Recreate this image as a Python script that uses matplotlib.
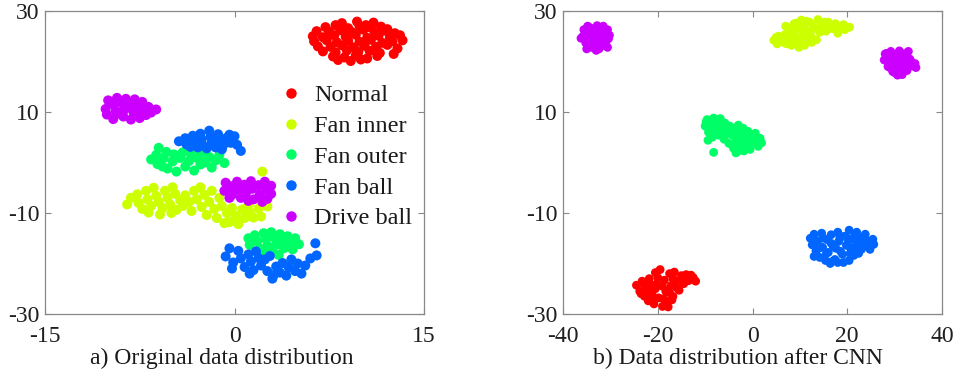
import matplotlib
matplotlib.use("Agg")
import matplotlib.pyplot as plt
from matplotlib.lines import Line2D

plt.rcParams['font.family'] = ['Liberation Serif', 'DejaVu Serif']
plt.rcParams['axes.unicode_minus'] = False

labels = ["Normal", "Fan inner", "Fan outer", "Fan ball", "Drive ball"]
colors = ["#FF0000", "#CCFF00", "#00FF66", "#0066FF", "#CC00FF"]

# ---------------- a) Original data distribution ----------------
a_normal_x = [8.5, 9.7, 10.4, 11.0, 7.2, 8.0, 9.0, 9.9, 10.8, 11.6, 12.1, 6.5, 7.5, 8.4, 9.3, 10.2,
              11.1, 11.9, 12.7, 6.2, 7.0, 7.9, 8.8, 9.6, 10.5, 11.4, 12.3, 13.1, 6.3, 7.3, 8.1, 9.0,
              9.9, 10.8, 11.7, 12.5, 13.3, 6.6, 7.6, 8.5, 9.4, 10.3, 11.2, 12.1, 12.9, 7.0, 8.0, 8.9,
              9.8, 10.7, 11.5, 12.6, 7.8, 8.7, 9.6, 10.5, 11.3, 8.2, 9.2, 10.0]
a_normal_y = [27.6, 27.9, 27.2, 27.7, 26.8, 27.2, 26.6, 27.0, 26.7, 26.9, 26.4, 26.0, 25.9, 26.2, 25.8, 26.3,
              25.7, 26.1, 25.6, 25.0, 24.8, 25.2, 24.9, 25.3, 24.7, 25.1, 24.8, 25.2, 24.0, 24.2, 23.8, 24.1,
              23.9, 24.3, 23.7, 24.0, 24.2, 23.0, 22.9, 23.2, 22.8, 23.1, 22.9, 23.3, 22.6, 22.0, 21.8, 22.2,
              21.9, 22.1, 21.7, 21.5, 21.0, 20.8, 21.2, 20.6, 21.1, 20.3, 20.1, 20.4]

a_finner_x = [-8.5, -8.2, -7.7, -7.6, -7.3, -7.0, -6.9, -6.6, -6.4, -6.2, -6.0, -5.9, -5.7, -5.5, -5.3,
              -5.1, -4.9, -4.7, -4.6, -4.3, -4.1, -3.9, -3.6, -6.8, -5.0,
              -3.2, -3.0, -2.7, -2.6, -2.4, -2.2, -2.0, -1.8, -1.6, -1.4, -1.2, -1.0, -0.8, -0.6, -0.4,
              -0.2, 0.1, 0.3, 0.6, 0.8, 1.2, 1.5, 1.9, 2.1, 2.6, 1.1, -3.4, 2.2]
a_finner_y = [-8.3, -7.0, -6.3, -8.0, -9.2, -5.6, -7.3, -8.6, -5.0, -6.6, -7.8, -10.3, -9.0, -5.6, -7.0,
              -8.3, -4.9, -6.2, -9.4, -7.5, -8.6, -6.5, -7.8, -9.9, -10.0,
              -5.6, -7.3, -4.9, -8.8, -6.4, -10.4, -7.8, -5.6, -9.2, -11.0, -7.0, -8.6, -12.0, -10.0, -11.8,
              -9.0, -10.6, -12.2, -9.3, -11.0, -9.9, -10.9, -9.1, -10.7, -8.7, -8.4, -9.6, -1.8]

a_fouter_x = [-6.6, -6.2, -6.0, -6.1, -5.6, -5.4, -5.3, -4.9, -4.8, -4.6, -4.3, -4.1, -3.9, -3.6, -3.4,
              -3.2, -2.9, -2.7, -2.6, -2.3, -2.0, -1.8, -1.5, -1.2, -0.8, -5.7, -3.0,
              1.1, 1.2, 1.6, 1.8, 2.0, 2.3, 2.5, 2.6, 2.9, 3.0, 3.2, 3.3, 3.6, 3.8, 3.9, 4.2, 4.4, 4.6,
              4.8, 5.1, 2.3, 3.5]
a_fouter_y = [0.6, 1.5, 2.9, -0.3, 0.9, 2.1, -1.2, 0.2, 1.6, -1.8, 0.9, 2.0, -0.8, 0.3, 1.5,
              -1.6, 0.8, -0.4, 1.8, 0.0, 1.1, -1.0, 0.4, 1.5, -0.1, -0.8, 2.1,
              -15.0, -16.3, -14.4, -15.6, -17.0, -14.0, -15.2, -16.5, -13.8, -17.8, -15.0, -16.3, -14.2,
              -15.6, -17.0, -14.6, -16.0, -17.2, -15.0, -16.2, -18.0, -18.3]

a_fball_x = [-4.4, -3.9, -3.8, -3.3, -3.2, -2.7, -2.6, -2.5, -2.0, -1.9, -1.8, -1.5, -1.3, -1.2, -0.9,
             -0.6, -0.3, 0.0, 0.2, 0.5, -3.5, -2.2, -1.0, -0.4, -2.9,
             -0.7, -0.4, -0.1, 0.3, 0.5, 0.8, 1.1, 1.3, 1.5, 1.7, 1.9, 2.1, 2.4, 2.6, 2.8, 3.1, 3.3, 3.6,
             3.8, 4.1, 4.3, 4.5, 4.8, 5.0, 5.3, 5.6, 6.0, 6.4, 6.5, 1.2, 3.0, -0.2]
a_fball_y = [4.2, 4.8, 3.6, 5.3, 4.1, 5.7, 4.6, 3.4, 6.3, 5.1, 4.0, 3.0, 5.6, 4.4, 3.4,
             4.9, 3.9, 5.2, 3.5, 2.3, 3.1, 2.8, 2.6, 5.5, 3.0,
             -18.6, -17.0, -19.8, -17.5, -19.0, -20.7, -18.2, -19.6, -21.3, -17.6, -18.9, -20.4, -19.2,
             -21.5, -18.5, -22.3, -20.6, -21.8, -19.9, -22.4, -20.8, -19.2, -21.5, -20.0, -22.0, -20.4,
             -19.0, -16.0, -18.4, -22.0, -23.0, -21.0]

a_dball_x = [-10.0, -9.3, -8.6, -7.9, -7.3, -10.2, -9.6, -8.9, -8.2, -7.5, -6.8, -6.2, -10.1, -9.4,
             -8.7, -8.0, -7.3, -6.6, -9.6, -8.8, -8.2, -7.5, -7.0, -9.1,
             -0.7, -0.8, -0.3, -0.2, 0.2, 0.3, 0.5, 0.8, 0.9, 1.3, 1.4, 1.5, 1.9, 2.0, 2.4, 2.5, 2.6,
             2.9, 2.9, -0.4, 1.1, 2.2]
a_dball_y = [12.3, 12.8, 12.6, 12.5, 12.0, 10.6, 11.5, 11.7, 11.3, 11.1, 11.0, 10.5, 9.5, 10.2,
             10.5, 10.0, 10.2, 9.9, 8.6, 9.1, 8.5, 8.8, 9.4, 9.7,
             -4.0, -5.6, -4.7, -6.4, -3.8, -5.3, -7.0, -4.4, -6.1, -3.7, -5.2, -7.3, -4.5, -6.3, -3.8,
             -5.4, -7.2, -4.6, -6.2, -7.0, -7.6, -7.8]

# ---------------- b) Data distribution after CNN ----------------
b_normal_x = [-24.5, -23.8, -23.3, -22.8, -22.5, -22.0, -21.8, -21.3, -20.8, -20.5, -20.2, -19.8,
              -19.5, -19.0, -18.6, -18.3, -18.0, -17.5, -17.2, -16.8, -16.5, -16.0, -15.5, -15.0,
              -14.5, -14.0, -13.5, -12.5, -12.0, -23.0, -21.0, -17.8,
              -22.0, -20.5, -19.0, -17.5, -16.0, -14.8, -21.5, -18.8, -20.0, -16.8, -13.0, -23.5, -17.0]
b_normal_y = [-24.3, -25.5, -23.5, -26.5, -24.6, -27.4, -23.0, -25.5, -28.0, -21.8, -24.0, -26.8,
              -21.2, -28.5, -23.3, -25.5, -27.5, -22.0, -24.4, -26.5, -21.7, -23.5, -25.3, -22.4,
              -24.0, -22.2, -23.4, -22.8, -23.5, -24.0, -26.5, -28.6,
              -25.5, -25.0, -24.5, -25.8, -24.8, -23.2, -24.2, -27.0, -22.8, -23.0, -22.3, -26.0, -27.2]

b_finner_x = [4.5, 5.2, 5.5, 6.5, 6.8, 7.5, 7.8, 8.2, 8.5, 8.8, 9.2, 9.5, 9.8, 10.3, 10.5, 10.8,
              11.0, 11.5, 12.0, 12.3, 13.0, 13.8, 14.2, 14.8, 15.5, 16.0, 16.8, 17.5, 18.0, 18.8,
              19.5, 20.5, 13.5, 12.5, 9.0, 7.0,
              6.0, 7.2, 8.0, 9.5, 10.0, 10.8, 11.8, 12.8, 14.5, 15.2, 16.5, 17.8, 19.2, 11.3, 9.3, 5.0]
b_finner_y = [24.2, 23.5, 25.0, 23.8, 25.3, 24.5, 26.5, 23.2, 25.5, 27.5, 24.0, 26.5, 22.8, 28.2,
              25.0, 27.0, 23.2, 26.0, 27.8, 25.0, 26.5, 28.3, 25.8, 27.2, 26.0, 27.8, 26.5, 27.5,
              25.6, 26.8, 26.3, 26.8, 24.3, 23.8, 25.0, 27.0,
              24.5, 23.5, 24.8, 23.6, 24.2, 25.8, 24.5, 27.0, 26.8, 27.8, 27.2, 26.7, 27.3, 28.0, 27.6, 24.8]

b_fouter_x = [-10.0, -9.6, -9.3, -8.8, -8.5, -8.2, -8.0, -7.4, -7.2, -6.8, -6.5, -6.0, -5.8, -5.5,
              -5.0, -4.8, -4.5, -4.0, -3.8, -3.5, -3.0, -2.8, -2.6, -2.0, -1.8, -1.6, -1.0, -0.8,
              -0.4, 0.3, 0.6, 1.2, 1.6, -8.2, -9.4, -3.5,
              -9.8, -9.0, -8.5, -7.6, -7.0, -6.2, -5.2, -4.2, -3.2, -2.2, -1.3, -0.2, 0.8, -4.5,
              -3.0, -1.5, -6.2, 1.9, -0.5, -2.5]
b_fouter_y = [7.2, 8.5, 6.0, 7.8, 5.0, 8.8, 6.6, 7.6, 5.4, 8.7, 6.6, 4.6, 7.8, 5.8,
              3.8, 7.2, 5.5, 2.8, 6.8, 4.6, 7.4, 3.2, 5.6, 6.8, 2.3, 4.4, 6.2, 3.4,
              5.2, 4.0, 5.8, 3.2, 4.8, 2.0, 4.4, 1.9,
              8.0, 7.0, 8.0, 6.8, 8.0, 7.5, 6.6, 6.4, 5.8, 4.6, 5.3, 4.6, 4.8, 3.6,
              3.6, 3.2, 5.6, 3.9, 2.6, 2.4]

b_fball_x = [12.2, 12.6, 13.0, 13.4, 13.8, 14.2, 14.6, 14.8, 15.4, 15.8, 16.0, 16.6, 17.0, 17.4,
             18.0, 18.2, 18.6, 19.2, 19.4, 19.8, 20.4, 20.6, 21.0, 21.6, 22.0, 22.4, 22.8, 23.4,
             23.8, 24.4, 24.8, 25.4, 20.4, 16.4,
             13.2, 14.0, 15.0, 15.6, 16.6, 17.6, 18.4, 19.0, 20.0, 20.6, 21.6, 22.2, 23.0, 24.0,
             25.6, 18.0, 21.4, 13.0, 16.8]
b_fball_y = [-15.0, -16.3, -14.2, -17.5, -15.5, -18.8, -14.0, -16.8, -19.4, -15.3, -17.8, -14.3,
             -16.5, -19.2, -13.8, -15.6, -17.6, -19.8, -14.6, -16.4, -13.4, -18.0, -15.2, -16.8,
             -13.8, -18.0, -15.0, -16.6, -14.2, -15.6, -17.2, -15.2, -19.4, -20.0,
             -15.8, -17.0, -15.0, -18.0, -16.0, -17.0, -14.6, -18.2, -15.0, -16.8, -14.2, -15.8,
             -17.2, -16.0, -16.2, -19.8, -18.4, -18.6, -19.6]

b_dball_x = [-35.8, -35.6, -35.2, -34.8, -34.6, -34.3, -34.0, -33.7, -33.5, -33.2, -32.8, -32.7,
             -32.4, -32.0, -31.8, -31.5, -31.2, -31.0, -30.6, -30.4, -30.6, -35.0, -33.0, -34.0,
             -35.0, -34.0, -33.0, -32.0, -31.0, -33.8, -32.0, -34.5, -30.2, -36.2,
             27.8, 28.3, 28.6, 29.2, 29.4, 29.6, 30.2, 30.4, 30.6, 31.0, 31.3, 31.5, 32.0, 32.2,
             32.6, 32.9, 33.2, 33.7, 34.3, 28.5, 30.0, 31.6,
             28.8, 29.8, 30.8, 31.8, 32.5, 30.5, 33.5, 29.0, 31.2, 34.5, 28.0]
b_dball_y = [25.0, 26.3, 23.7, 27.0, 25.6, 24.3, 22.8, 26.5, 25.1, 23.6, 27.1, 24.6,
             22.5, 26.0, 24.0, 27.0, 25.2, 23.4, 26.3, 24.5, 22.8, 22.5, 22.2, 26.0,
             25.5, 24.5, 25.8, 24.8, 25.8, 23.5, 23.0, 26.8, 25.2, 24.6,
             20.3, 21.6, 19.0, 22.0, 20.5, 18.0, 21.4, 19.6, 17.3, 22.1, 20.6, 18.6, 21.5, 19.7,
             18.2, 22.0, 20.5, 19.1, 19.6, 20.0, 17.8, 17.4,
             21.0, 19.5, 21.0, 20.0, 21.0, 18.5, 20.0, 18.8, 19.2, 18.8, 21.5]

a_x = [a_normal_x, a_finner_x, a_fouter_x, a_fball_x, a_dball_x]
a_y = [a_normal_y, a_finner_y, a_fouter_y, a_fball_y, a_dball_y]
b_x = [b_normal_x, b_finner_x, b_fouter_x, b_fball_x, b_dball_x]
b_y = [b_normal_y, b_finner_y, b_fouter_y, b_fball_y, b_dball_y]

a_xticks = [-15, 0, 15]
b_xticks = [-40, -20, 0, 20, 40]
yticks = [-30, -10, 10, 30]

fig = plt.figure(figsize=(9.61, 3.73), dpi=100)
axA = fig.add_axes([45 / 961, 59 / 373, 379 / 961, 303 / 373])
axB = fig.add_axes([563 / 961, 59 / 373, 379 / 961, 303 / 373])

for ax, xs, ys, xt, xl, sz in [(axA, a_x, a_y, a_xticks, (-15, 15), 52),
                               (axB, b_x, b_y, b_xticks, (-40, 40), 40)]:
    for x, y, c, lab in zip(xs, ys, colors, labels):
        ax.scatter(x, y, s=sz, color=c, edgecolors='none', label=lab)
    ax.set_xlim(*xl)
    ax.set_ylim(-30, 30)
    ax.set_xticks(xt)
    ax.set_yticks(yticks)
    ax.tick_params(direction='in', length=4, width=0.8, top=True, right=True,
                   labelsize=17, colors='#888888', labelcolor='#1f1f1f')
    ax.tick_params(axis='x', pad=9)
    ax.tick_params(axis='y', pad=4)
    for sp in ax.spines.values():
        sp.set_color('#888888')
        sp.set_linewidth(0.9)

handles = [Line2D([], [], marker='o', linestyle='none', markersize=7.5,
                  markerfacecolor=c, markeredgecolor='none') for c in colors]
axA.legend(handles, labels, loc='upper left', bbox_to_anchor=(0.617, 0.758),
           frameon=False, fontsize=17.5, handlelength=1.0, handletextpad=0.45,
           labelspacing=0.36, borderpad=0, borderaxespad=0, labelcolor='#1a1a1a')

fig.text(222 / 961, 1 - 358 / 373, "a) Original data distribution", ha='center', va='center',
         fontsize=17, color='#1a1a1a')
fig.text(738 / 961, 1 - 358 / 373, "b) Data distribution after CNN", ha='center', va='center',
         fontsize=17, color='#1a1a1a')

fig.savefig("out.png", dpi=100)
